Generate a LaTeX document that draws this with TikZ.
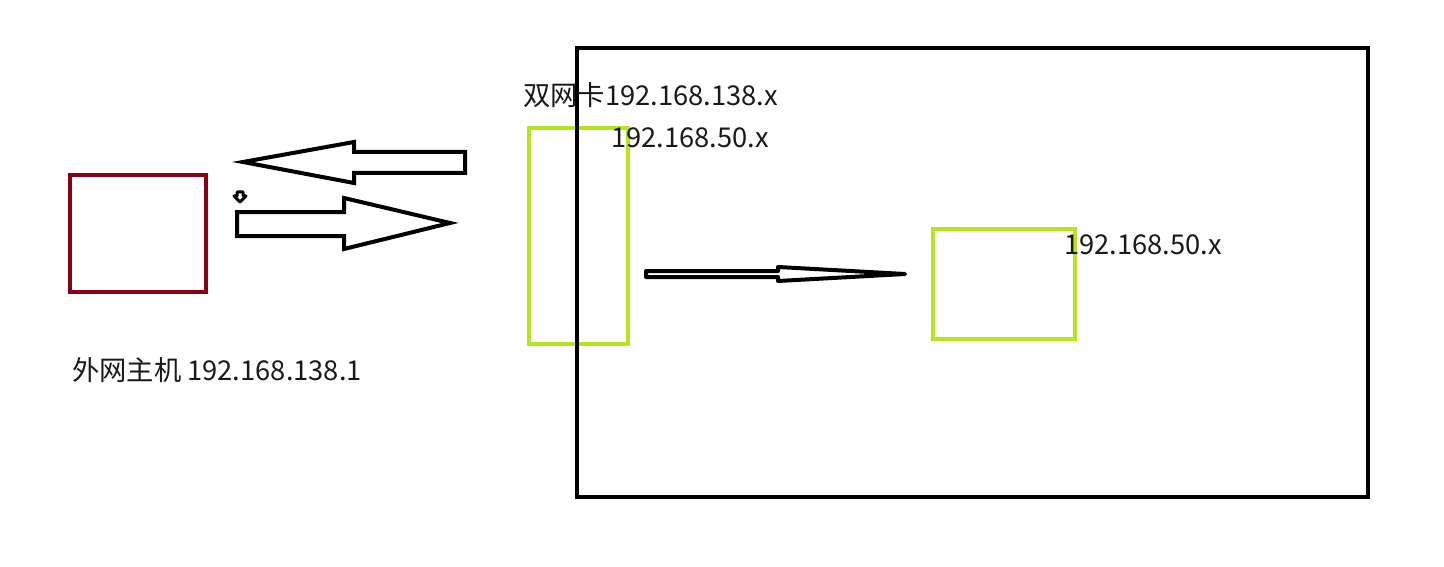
\documentclass[tikz,border=0pt]{standalone}
\usepackage{fontspec}
\setmainfont{Noto Sans CJK SC}
\definecolor{paintred}{HTML}{880015}
\definecolor{paintlime}{HTML}{B5E61D}
\begin{document}
\begin{tikzpicture}[x=1pt,y=-1pt,
  box/.style={draw, line width=3.5pt, inner sep=0pt, minimum width=#1},
  lbl/.style={anchor=west, inner sep=0pt, font=\fontsize{27.3}{31}\selectfont, text=black!90},
  blockarrow/.style={draw=black, line width=4pt, fill=white, line join=miter}]
\useasboundingbox (0,0) rectangle (1444,567);
% green NIC box (under the big frame)
\node[box=99pt, draw=paintlime, minimum height=216pt] (nic) at (578.5,236) {};
% big machine frame
\node[box=791pt, draw=black, line width=4pt, minimum height=449pt] (frame) at (972.5,272.5) {};
% external host
\node[box=136pt, draw=paintred, minimum height=117pt] (host) at (138,233.5) {};
% inner host
\node[box=142pt, draw=paintlime, minimum height=110pt] (inner) at (1004,284) {};
% labels
\node[lbl] (t1) at (523,95) {双网卡192.168.138.x};
\node[lbl] (t2) at (611,138) {192.168.50.x};
\node[lbl] (t3) at (1064,245) {192.168.50.x};
\node[lbl] (t4) at (72,370) {外网主机 192.168.138.1};
% left-pointing block arrow
\draw[blockarrow] (465,152) -- (354,152) -- (354,142) -- (243,162) -- (354,183) -- (354,173) -- (465,173) -- cycle;
% right-pointing block arrow
\draw[blockarrow] (237,212) -- (344,212) -- (344,198) -- (450,223) -- (344,249) -- (344,236) -- (237,236) -- cycle;
% tiny down arrow mark
\draw[line width=3pt, fill=white, line join=round] (237,192) -- (243,192) -- (243,196) -- (246,196) -- (240,202) -- (234,196) -- (237,196) -- cycle;
% thin arrow inside frame
\draw[line width=4pt, line join=round, line cap=round, fill=white] (646,271) -- (778,271) -- (778,267) -- (905,274) -- (778,281) -- (778,277) -- (646,277) -- cycle;
\end{tikzpicture}
\end{document}
